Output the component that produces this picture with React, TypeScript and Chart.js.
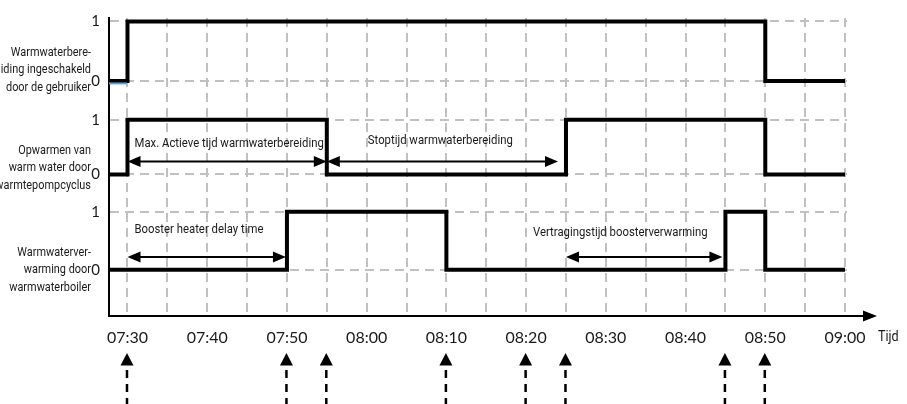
import React, { useEffect, useRef } from 'react';
import { Chart, registerables } from 'chart.js';

Chart.register(...registerables);

// ---------------- DATA ----------------
const tickTimes = [
  '07:30', '07:35', '07:40', '07:45', '07:50', '07:55', '08:00', '08:05', '08:10', '08:15',
  '08:20', '08:25', '08:30', '08:35', '08:40', '08:45', '08:50', '08:55', '09:00',
];
const tickLabels = ['07:30', '07:40', '07:50', '08:00', '08:10', '08:20', '08:30', '08:40', '08:50', '09:00'];
const axisTitle = 'Tijd';
const levelLabels = ['0', '1'];

const rowNames = [
  ['Warmwaterbere-', 'iding ingeschakeld', 'door de gebruiker'],
  ['Opwarmen van', 'warm water door', 'warmtepompcyclus'],
  ['Warmwaterver-', 'warming door', 'warmwaterboiler'],
];

const initialStates = [0, 0, 0];
const userSwitchTimes = ['07:30', '08:50', '09:00'];
const userSwitchStates = [1, 0, 0];
const heatPumpSwitchTimes = ['07:30', '07:55', '08:25', '08:50', '09:00'];
const heatPumpSwitchStates = [1, 0, 1, 0, 0];
const boilerSwitchTimes = ['07:50', '08:10', '08:45', '08:50', '09:00'];
const boilerSwitchStates = [1, 0, 1, 0, 0];

const spanLabels = [
  'Max. Actieve tijd warmwaterbereiding',
  'Stoptijd warmwaterbereiding',
  'Booster heater delay time',
  'Vertragingstijd boosterverwarming',
];
const spanStarts = ['07:30', '07:55', '07:30', '08:25'];
const spanEnds = ['07:55', '08:25', '07:50', '08:45'];

const eventTimes = ['07:30', '07:50', '07:55', '08:10', '08:20', '08:25', '08:45', '08:50'];

// ---------------- LAYOUT / STYLE ----------------
const W = 907;
const H = 404;
const X_MIN = 447.68;
const X_MAX = 540.25;
const Y_MIN = 0;
const Y_MAX = 303;
const ROWS = [
  { zero: 239, one: 299.5, labelY: 70 },
  { zero: 144, one: 199.5, labelY: 168 },
  { zero: 47, one: 106, labelY: 270 },
];
const SPAN_Y = [157, 157, 60, 60];
const SPAN_END_GAP = [0, 8, 1, 3];
const SPAN_TEXT_DX = [7, 41, 7, -33];
const SPAN_TEXT_DY = [-18, -21, -27, -24];
const BLUE_OFFSET = 2.5;

const NARROW = 'Roboto, "Noto Sans", sans-serif';
const COND = 0.84;
const ROUND = 'Lato, "Open Sans", sans-serif';
const TEXT = '#1a1a1a';
const GRID = '#c0c0c0';

const toMin = (s: string) => {
  const [h, m] = s.split(':').map(Number);
  return h * 60 + m;
};
const fmt = (v: number) => {
  const h = Math.floor(v / 60);
  const m = Math.round(v - h * 60);
  return `${String(h).padStart(2, '0')}:${String(m).padStart(2, '0')}`;
};

const buildRow = (row: number, times: string[], states: number[]) => {
  const r = ROWS[row];
  const lv = (s: number) => (s ? r.one : r.zero);
  const pts = [{ x: X_MIN, y: lv(initialStates[row]) }];
  times.forEach((t, i) => pts.push({ x: toMin(t), y: lv(states[i]) }));
  return pts;
};

const arrowHead = (ctx: CanvasRenderingContext2D, x: number, y: number, dir: number, len: number, half: number) => {
  ctx.beginPath();
  ctx.moveTo(x, y);
  ctx.lineTo(x - dir * len, y - half);
  ctx.lineTo(x - dir * len, y + half);
  ctx.closePath();
  ctx.fill();
};

const condText = (
  ctx: CanvasRenderingContext2D,
  text: string,
  x: number,
  y: number,
  size: number,
  align: CanvasTextAlign,
) => {
  ctx.save();
  ctx.font = `${size}px ${NARROW}`;
  ctx.fillStyle = TEXT;
  ctx.textAlign = align;
  ctx.textBaseline = 'middle';
  ctx.translate(x, y);
  ctx.scale(COND, 1);
  ctx.fillText(text, 0, 0);
  ctx.restore();
};

const overlay = {
  id: 'overlay',
  afterDatasetsDraw(chart: any) {
    const ctx: CanvasRenderingContext2D = chart.ctx;
    const xs = chart.scales.x;
    const ys = chart.scales.y;
    ctx.save();
    ctx.fillStyle = '#000';
    ctx.strokeStyle = '#000';
    spanLabels.forEach((label, i) => {
      const x0 = xs.getPixelForValue(toMin(spanStarts[i]));
      const x1 = xs.getPixelForValue(toMin(spanEnds[i])) - SPAN_END_GAP[i];
      const y = ys.getPixelForValue(SPAN_Y[i]);
      ctx.lineWidth = 2;
      ctx.beginPath();
      ctx.moveTo(x0 + 6, y);
      ctx.lineTo(x1 - 6, y);
      ctx.stroke();
      arrowHead(ctx, x0, y, -1, 13, 5.5);
      arrowHead(ctx, x1, y, 1, 13, 5.5);
      condText(ctx, label, x0 + SPAN_TEXT_DX[i], y + SPAN_TEXT_DY[i], 13.5, 'left');
    });
    ctx.restore();
  },
  afterDraw(chart: any) {
    const ctx: CanvasRenderingContext2D = chart.ctx;
    const xs = chart.scales.x;
    const area = chart.chartArea;
    ctx.save();
    // x axis extension + arrow
    ctx.strokeStyle = '#000';
    ctx.fillStyle = '#000';
    ctx.lineWidth = 2;
    ctx.beginPath();
    ctx.moveTo(area.right - 1, area.bottom);
    ctx.lineTo(866, area.bottom);
    ctx.stroke();
    arrowHead(ctx, 877, area.bottom, 1, 14, 5.5);
    // Tijd
    condText(ctx, axisTitle, 878, 337, 15, 'left');
    // row names
    rowNames.forEach((lines, r) => {
      lines.forEach((ln, k) => {
        condText(ctx, ln, 91, ROWS[r].labelY + (k - 1) * 17.5, 13, 'right');
      });
    });
    // event arrows below axis
    ctx.fillStyle = '#000';
    ctx.strokeStyle = '#000';
    eventTimes.forEach((t) => {
      const x = xs.getPixelForValue(toMin(t)) - 0.5;
      ctx.beginPath();
      ctx.moveTo(x, 353);
      ctx.lineTo(x - 6.5, 365.5);
      ctx.lineTo(x + 6.5, 365.5);
      ctx.closePath();
      ctx.fill();
      ctx.lineWidth = 2.5;
      ctx.setLineDash([8, 6]);
      ctx.beginPath();
      ctx.moveTo(x, 370);
      ctx.lineTo(x, H);
      ctx.stroke();
      ctx.setLineDash([]);
    });
    ctx.restore();
  },
};

export default function App() {
  const ref = useRef<HTMLCanvasElement | null>(null);

  useEffect(() => {
    if (!ref.current) return;
    const lineStyle = {
      borderColor: '#000',
      borderWidth: 4,
      pointRadius: 0,
      stepped: true as const,
      fill: false,
      borderJoinStyle: 'miter' as const,
      borderCapStyle: 'butt' as const,
    };
    const userPts = buildRow(0, userSwitchTimes, userSwitchStates);
    const bluePts = [
      { x: X_MIN, y: ROWS[0].zero - BLUE_OFFSET },
      { x: toMin(userSwitchTimes[0]) - 0.1, y: ROWS[0].zero - BLUE_OFFSET },
    ];
    const yTicks: number[] = [];
    ROWS.forEach((r) => {
      yTicks.push(r.zero, r.one);
    });

    const chart = new Chart(ref.current, {
      type: 'line',
      data: {
        datasets: [
          { ...lineStyle, data: bluePts, borderColor: '#5b9bd5', borderWidth: 2, stepped: false },
          { ...lineStyle, data: userPts },
          { ...lineStyle, data: buildRow(1, heatPumpSwitchTimes, heatPumpSwitchStates) },
          { ...lineStyle, data: buildRow(2, boilerSwitchTimes, boilerSwitchStates) },
        ],
      },
      options: {
        responsive: false,
        animation: false,
        events: [],
        layout: { padding: { top: 13, right: W - 847, left: 0, bottom: 0 } },
        plugins: { legend: { display: false }, tooltip: { enabled: false }, title: { display: false } },
        scales: {
          x: {
            type: 'linear',
            min: X_MIN,
            max: X_MAX,
            afterFit: (s: any) => {
              s.height = 88;
            },
            afterBuildTicks: (s: any) => {
              s.ticks = tickTimes.map((t) => ({ value: toMin(t) }));
            },
            grid: { color: GRID, lineWidth: 2, drawTicks: false },
            border: { display: true, color: '#000', width: 2, dash: [9, 6] },
            ticks: {
              autoSkip: false,
              maxRotation: 0,
              padding: 12,
              color: TEXT,
              font: { family: ROUND, size: 16 },
              callback: (v: any) => {
                const s = fmt(Number(v));
                return tickLabels.includes(s) ? s : '';
              },
            },
          },
          y: {
            type: 'linear',
            min: Y_MIN,
            max: Y_MAX,
            afterFit: (s: any) => {
              s.width = 109;
            },
            afterBuildTicks: (s: any) => {
              s.ticks = yTicks.map((v) => ({ value: v }));
            },
            grid: { color: GRID, lineWidth: 2, drawTicks: false },
            border: { display: true, color: '#000', width: 2, dash: [9, 6] },
            ticks: {
              autoSkip: false,
              padding: 9,
              color: TEXT,
              font: { family: ROUND, size: 15 },
              callback: (v: any) => {
                const val = Number(v);
                const isOne = ROWS.some((r) => Math.abs(r.one - val) < 0.01);
                return isOne ? levelLabels[1] : levelLabels[0];
              },
            },
          },
        },
      },
      plugins: [overlay],
    });
    return () => chart.destroy();
  }, []);

  return (
    <div style={{ position: 'absolute', left: 0, top: 0, width: W, height: H, background: '#fff' }}>
      <canvas ref={ref} width={W} height={H} style={{ display: 'block' }} />
    </div>
  );
}
